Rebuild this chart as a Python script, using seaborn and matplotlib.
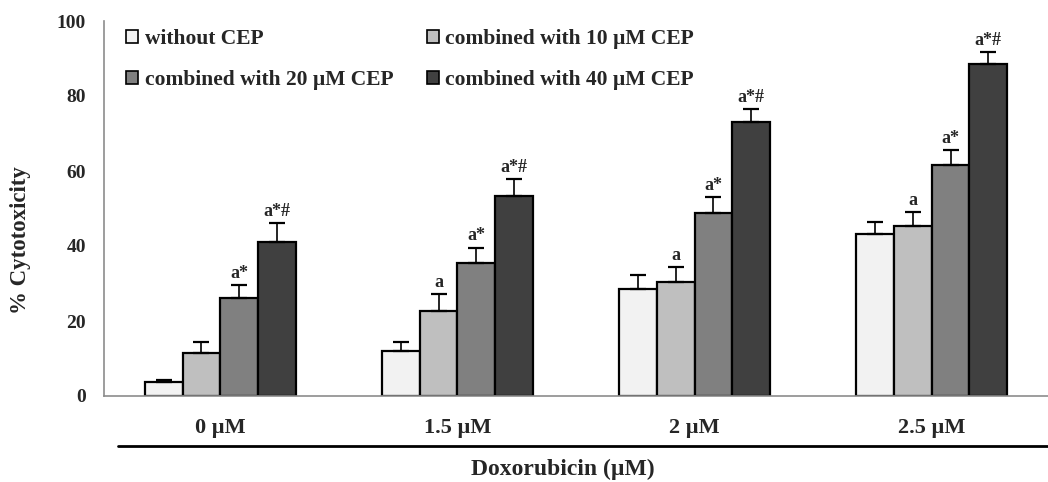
import matplotlib
matplotlib.use("Agg")
import matplotlib.pyplot as plt
from matplotlib.lines import Line2D
import seaborn as sns
import pandas as pd
import numpy as np

# ---- data ----
categories = ["0 µM", "1.5 µM", "2 µM", "2.5 µM"]
series = ["without CEP", "combined with 10 µM CEP",
          "combined with 20 µM CEP", "combined with 40 µM CEP"]
without_cep = [3.8, 12.1, 28.6, 43.1]
cep10 = [11.6, 22.8, 30.5, 45.4]
cep20 = [26.1, 35.6, 48.8, 61.5]
cep40 = [41.2, 53.3, 73.0, 88.5]
err_without = [0.5, 2.3, 3.7, 3.2]
err_10 = [2.8, 4.3, 3.8, 3.6]
err_20 = [3.4, 4.0, 4.2, 4.0]
err_40 = [4.9, 4.5, 3.5, 3.3]
ann_without = ["", "", "", ""]
ann_10 = ["", "a", "a", "a"]
ann_20 = ["a*", "a*", "a*", "a*"]
ann_40 = ["a*#", "a*#", "a*#", "a*#"]
colors = ["#f2f2f2", "#bfbfbf", "#808080", "#404040"]

values = [without_cep, cep10, cep20, cep40]
errors = [err_without, err_10, err_20, err_40]
annots = [ann_without, ann_10, ann_20, ann_40]

rows = []
for s, vals in zip(series, values):
    for c, v in zip(categories, vals):
        rows.append({"dose": c, "group": s, "value": v})
df = pd.DataFrame(rows)

sns.set_theme(style="white")
plt.rcParams["font.family"] = ["Liberation Serif", "DejaVu Serif"]
plt.rcParams["font.weight"] = "bold"

W, H = 1048, 482
fig = plt.figure(figsize=(W / 100, H / 100), dpi=100)
ax = fig.add_axes([104 / W, 1 - 396 / H, (W - 104) / W, 375 / H])

sns.barplot(data=df, x="dose", y="value", hue="group", order=categories,
            hue_order=series, palette=colors, edgecolor="black",
            linewidth=1.6, errorbar=None, width=0.635, gap=0, ax=ax,
            legend=True)

# error bars & annotations, positions taken from the drawn bars
bar_containers = list(ax.containers)
for i, cont in enumerate(bar_containers):
    for j, bar in enumerate(cont.patches):
        x = bar.get_x() + bar.get_width() / 2
        h = bar.get_height()
        e = errors[i][j]
        ax.errorbar(x, h, yerr=[[0], [e]], fmt="none", ecolor="black",
                    elinewidth=1.2, capsize=6, capthick=1.6, zorder=3)
        if annots[i][j]:
            ax.text(x, h + e + 0.8, annots[i][j], ha="center", va="bottom",
                    fontsize=13, fontweight="bold")

ax.set_xlim(-0.49, 3.49)
ax.set_ylim(0, 100)
ax.set_yticks([0, 20, 40, 60, 80, 100])
ax.tick_params(axis="y", length=0, pad=13, labelsize=14)
ax.tick_params(axis="x", length=0, pad=16, labelsize=16)
for lab in ax.get_xticklabels() + ax.get_yticklabels():
    lab.set_fontweight("bold")
ax.set_xlabel("")
ax.set_ylabel("")
for s in ["top", "right"]:
    ax.spines[s].set_visible(False)
for s in ["left", "bottom"]:
    ax.spines[s].set_color("#8c8c8c")
    ax.spines[s].set_linewidth(1.2)

fig.text(21 / W, 1 - 240 / H, "% Cytotoxicity", rotation=90, ha="center",
         va="center", fontsize=16.5, fontweight="bold")

# legend: row-wise order
handles, labels = ax.get_legend_handles_labels()
order = [0, 2, 1, 3]
leg = ax.legend([handles[k] for k in order], [labels[k] for k in order],
                ncol=2, loc="upper left", bbox_to_anchor=(107 / W, 1 - 10 / H),
                bbox_transform=fig.transFigure, frameon=False,
                handlelength=0.55, handleheight=0.55, handletextpad=0.3,
                labelspacing=0.95, columnspacing=1.55,
                prop={"family": "Liberation Serif", "weight": "bold", "size": 15.5})
for p in leg.get_patches():
    p.set_edgecolor("black")
    p.set_linewidth(1.2)

# separator line and axis title beneath
fig.add_artist(Line2D([118 / W, 1.0], [1 - 446 / H, 1 - 446 / H],
                      color="black", linewidth=2, transform=fig.transFigure))
fig.text(563 / W, 1 - 469 / H, "Doxorubicin (µM)", ha="center", va="center",
         fontsize=17, fontweight="bold")

fig.savefig("out.png", dpi=100)
